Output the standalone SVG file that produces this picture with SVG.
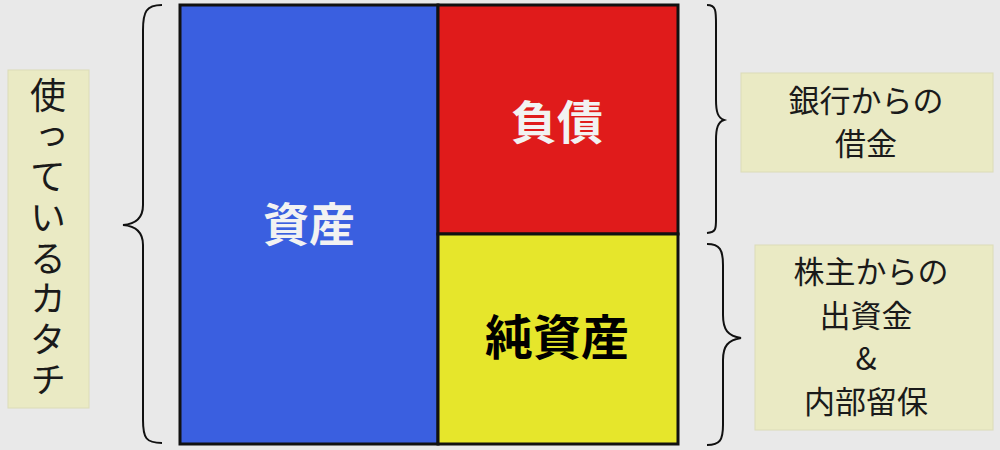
<svg xmlns="http://www.w3.org/2000/svg" width="1000" height="450" viewBox="0 0 1000 450">
<style>
.lbl{fill:#eaeac4;stroke:#dcdcb8;stroke-width:1}
.lt{font-family:"Noto Sans CJK JP","Noto Sans",sans-serif;font-size:31px;fill:#1a1a1a;text-anchor:middle}
.big{font-family:"Noto Sans CJK JP","Noto Sans",sans-serif;font-weight:bold;font-size:46px;text-anchor:middle;dominant-baseline:central}
.brace{fill:none;stroke:#111;stroke-width:2}
.cell{stroke:#111;stroke-width:3}
</style>
<rect width="1000" height="450" fill="#e9e9e9"/>
<g id="asset">
<rect class="cell" x="180" y="5" width="258" height="439" fill="#3a5fe0"/>
<text class="big" x="309" y="221" fill="#f2f2f2">資産</text>
</g>
<g id="liability">
<rect class="cell" x="438" y="5" width="240" height="229" fill="#e01b1b"/>
<text class="big" x="557" y="119" fill="#f2f2f2">負債</text>
</g>
<g id="equity">
<rect class="cell" x="438" y="234" width="240" height="210" fill="#e6e62b"/>
<text class="big" x="557" y="334" fill="#000" style="font-size:48px">純資産</text>
</g>
<g id="left-label">
<rect class="lbl" x="8" y="70" width="81" height="338"/>
<text class="lt" x="48" y="240" style="font-size:36px;writing-mode:vertical-rl;text-orientation:upright;letter-spacing:4.6px">使っているカタチ</text>
</g>
<g id="label-debt">
<rect class="lbl" x="741" y="73" width="252" height="99"/>
<text class="lt" x="866" y="112">銀行からの</text>
<text class="lt" x="866" y="155">借金</text>
</g>
<g id="label-equity">
<rect class="lbl" x="755" y="245" width="238" height="185"/>
<text class="lt" x="871" y="283">株主からの</text>
<text class="lt" x="866" y="327">出資金</text>
<text class="lt" x="866" y="370">&amp;</text>
<text class="lt" x="866" y="413">内部留保</text>
</g>
<g id="connectors">
<path class="brace" d="M162,5 C146,5 143,12 143,30 L143,205 C143,218 136,224 123,225 C136,226 143,232 143,245 L143,420 C143,438 146,443 162,443"/>
<path class="brace" d="M707,5 C717,5 716,12 716,30 L716,100 C716,112 718,118 724,120 C718,122 716,128 716,140 L716,215 C716,228 717,232 707,233"/>
<path class="brace" d="M707,244 C720,244 723,250 723,265 L723,315 C723,330 728,336 741,338 C728,340 723,346 723,360 L723,425 C723,440 720,445 707,445"/>
</g>
</svg>
